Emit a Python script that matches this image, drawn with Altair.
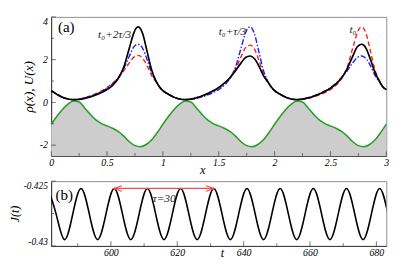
import altair as alt
import pandas as pd

FONT = "Liberation Serif, Times New Roman, DejaVu Serif, serif"

# ---------------- panel (a) data ----------------
x_rho = [0.00, 0.05, 0.10, 0.15, 0.20, 0.25, 0.30, 0.35, 0.40, 0.45, 0.50, 0.55, 0.60, 0.65, 0.70, 0.74, 0.76, 0.78, 0.80, 0.82, 0.86, 0.90, 0.94, 0.97,
         1.00, 1.05, 1.10, 1.15, 1.20, 1.25, 1.30, 1.35, 1.40, 1.45, 1.50, 1.55, 1.60, 1.65, 1.70, 1.74, 1.76, 1.78, 1.80, 1.82, 1.86, 1.90, 1.94, 1.97,
         2.00, 2.05, 2.10, 2.15, 2.20, 2.25, 2.30, 2.35, 2.40, 2.45, 2.50, 2.55, 2.60, 2.65, 2.70, 2.74, 2.76, 2.78, 2.80, 2.82, 2.86, 2.90, 2.94, 2.97,
         3.00]

rho_black = [0.55, 0.38, 0.24, 0.16, 0.13, 0.14, 0.19, 0.26, 0.35, 0.46, 0.60, 0.80, 1.12, 1.65, 2.55, 3.25, 3.47, 3.53, 3.44, 3.20, 2.35, 1.50, 0.98, 0.72,
             0.55, 0.38, 0.24, 0.16, 0.13, 0.15, 0.22, 0.30, 0.41, 0.54, 0.70, 0.90, 1.15, 1.48, 1.85, 2.10, 2.15, 2.17, 2.13, 2.04, 1.70, 1.25, 0.95, 0.72,
             0.55, 0.38, 0.24, 0.16, 0.13, 0.15, 0.21, 0.29, 0.39, 0.51, 0.66, 0.87, 1.15, 1.58, 2.17, 2.60, 2.69, 2.72, 2.67, 2.52, 1.98, 1.38, 0.98, 0.72,
             0.60]
rho_red = [0.55, 0.38, 0.24, 0.16, 0.13, 0.15, 0.22, 0.30, 0.41, 0.54, 0.70, 0.90, 1.15, 1.48, 1.85, 2.12, 2.18, 2.20, 2.16, 2.06, 1.70, 1.25, 0.95, 0.72,
           0.55, 0.38, 0.24, 0.16, 0.13, 0.15, 0.21, 0.29, 0.39, 0.51, 0.66, 0.87, 1.15, 1.56, 2.14, 2.56, 2.65, 2.68, 2.63, 2.49, 1.96, 1.37, 0.98, 0.72,
           0.55, 0.38, 0.24, 0.16, 0.13, 0.14, 0.19, 0.26, 0.35, 0.46, 0.60, 0.80, 1.12, 1.65, 2.55, 3.25, 3.47, 3.53, 3.44, 3.20, 2.35, 1.50, 0.98, 0.72,
           0.60]
rho_blue = [0.55, 0.38, 0.24, 0.16, 0.13, 0.15, 0.21, 0.29, 0.39, 0.51, 0.66, 0.87, 1.15, 1.58, 2.17, 2.60, 2.69, 2.72, 2.67, 2.52, 1.98, 1.38, 0.98, 0.72,
            0.55, 0.38, 0.24, 0.16, 0.13, 0.14, 0.19, 0.26, 0.35, 0.46, 0.60, 0.80, 1.12, 1.65, 2.55, 3.25, 3.47, 3.53, 3.44, 3.20, 2.35, 1.50, 0.98, 0.72,
            0.55, 0.38, 0.24, 0.16, 0.13, 0.15, 0.22, 0.30, 0.41, 0.54, 0.70, 0.90, 1.15, 1.48, 1.85, 2.10, 2.15, 2.17, 2.13, 2.04, 1.70, 1.25, 0.95, 0.72,
            0.60]

x_u = [0.00, 0.05, 0.10, 0.15, 0.20, 0.25, 0.30, 0.35, 0.40, 0.45, 0.50, 0.55, 0.60, 0.65, 0.70, 0.75, 0.80, 0.85, 0.90, 0.95,
       1.00, 1.05, 1.10, 1.15, 1.20, 1.25, 1.30, 1.35, 1.40, 1.45, 1.50, 1.55, 1.60, 1.65, 1.70, 1.75, 1.80, 1.85, 1.90, 1.95,
       2.00, 2.05, 2.10, 2.15, 2.20, 2.25, 2.30, 2.35, 2.40, 2.45, 2.50, 2.55, 2.60, 2.65, 2.70, 2.75, 2.80, 2.85, 2.90, 2.95,
       3.00]
u_vals = [-1.02, -0.66, -0.33, -0.08, 0.07, 0.02, -0.26, -0.56, -0.82, -0.99, -1.10, -1.21, -1.36, -1.58, -1.84, -2.02, -2.07, -1.97, -1.75, -1.41,
          -1.02, -0.66, -0.33, -0.08, 0.07, 0.02, -0.26, -0.56, -0.82, -0.99, -1.10, -1.21, -1.36, -1.58, -1.84, -2.02, -2.07, -1.97, -1.75, -1.41,
          -1.02, -0.66, -0.33, -0.08, 0.07, 0.02, -0.26, -0.56, -0.82, -0.99, -1.10, -1.21, -1.36, -1.58, -1.84, -2.02, -2.07, -1.97, -1.75, -1.41,
          -1.02]

a_x_ticks = [0, 0.5, 1, 1.5, 2, 2.5, 3]
a_x_minor = [0.25, 0.75, 1.25, 1.75, 2.25, 2.75]
a_y_ticks = [-2, 0, 2, 4]
a_y_minor = [-1, 1, 3]

a_labels = ["(a)", "t\u2080+2\u03c4/3", "t\u2080+\u03c4/3", "t\u2080"]
a_lab_x = [0.06, 0.42, 1.50, 2.67]
a_lab_y = [3.53, 3.19, 3.32, 3.40]

# ---------------- panel (b) data ----------------
t_vals = [581, 583.5, 586, 588.5, 591, 593.5, 596, 598.5, 601, 603.5, 606, 608.5, 611, 613.5, 616, 618.5,
          621, 623.5, 626, 628.5, 631, 633.5, 636, 638.5, 641, 643.5, 646, 648.5, 651, 653.5, 656, 658.5,
          661, 663.5, 666, 668.5, 671, 673.5, 676, 678.5, 681, 683.5]
j_vals = [-0.42556, -0.42754, -0.42951, -0.42754, -0.42556, -0.42754, -0.42951, -0.42754,
          -0.42556, -0.42754, -0.42951, -0.42754, -0.42556, -0.42754, -0.42951, -0.42754,
          -0.42556, -0.42754, -0.42951, -0.42754, -0.42556, -0.42754, -0.42951, -0.42754,
          -0.42556, -0.42754, -0.42951, -0.42754, -0.42556, -0.42754, -0.42951, -0.42754,
          -0.42556, -0.42754, -0.42951, -0.42754, -0.42556, -0.42754, -0.42951, -0.42754,
          -0.42556, -0.42754]

b_x_ticks = [600, 620, 640, 660, 680]
b_x_minor = [590, 610, 630, 650, 670]
b_y_ticks = [-0.43, -0.425]
b_y_minor = [-0.4275]

tau_start = [601]
tau_end = [631]
tau_level = [-0.42556]
b_labels = ["(b)", "\u03c4=30"]
b_lab_x = [583.3, 612.6]
b_lab_y = [-0.42607, -0.42634]

# ---------------- layout ----------------
W = 357
H1 = 148
H2 = 69
AXC = "#333333"

xs_a = alt.Scale(domain=[0, 3], nice=False, zero=False)
ys_a = alt.Scale(domain=[-2.5, 4], nice=False, zero=False)
xs_b = alt.Scale(domain=[582, 683], nice=False, zero=False)
ys_b = alt.Scale(domain=[-0.43, -0.425], nice=False, zero=False)


def axis(values, title, fmt, **kw):
    opts = dict(values=values, title=title, format=fmt, ticks=False, grid=False,
                labelFont=FONT, labelFontStyle="italic", labelFontSize=10.5, labelColor="black",
                labelFlush=False, labelPadding=2, domainColor=AXC,
                titleFont=FONT, titleFontStyle="italic", titleFontWeight="normal",
                titleFontSize=14, titleColor="black",
                labelExpr="replace(datum.label, '\u2212', '-')")
    opts.update(kw)
    return alt.Axis(**opts)


AX_XA = axis(a_x_ticks, "x", "~g", titleY=15, titleX=161, titleBaseline="middle", titleFontSize=13)
AX_YA = axis(a_y_ticks, "\u03c1(x), U(x)", "~g", labelPadding=4, titlePadding=4, labelFlush=True)
AX_XB = axis(b_x_ticks, "t", "d", titleY=1, titleBaseline="top", titleX=182, titleFontSize=13)
AX_YB = axis(b_y_ticks, "J(t)", ".4~f", titleFontSize=13, labelFontSize=10, labelPadding=4, titlePadding=2,
             labelFlush=True)


def XA(f):
    return alt.X(f, scale=xs_a, axis=AX_XA)


def YA(f):
    return alt.Y(f, scale=ys_a, axis=AX_YA)


def XB(f):
    return alt.X(f, scale=xs_b, axis=AX_XB)


def YB(f):
    return alt.Y(f, scale=ys_b, axis=AX_YB)


# panel (a)
rho_df = pd.DataFrame({"x": x_rho, "black": rho_black, "red": rho_red, "blue": rho_blue})
u_df = pd.DataFrame({"x": x_u, "U": u_vals})

area = alt.Chart(u_df).mark_area(color="#cdcdcd", interpolate="monotone").encode(
    x=XA("x:Q"), y=YA("U:Q"), y2=alt.datum(-2.5))
u_line = alt.Chart(u_df).mark_line(color="#22a022", strokeWidth=1.6, interpolate="monotone").encode(
    x=XA("x:Q"), y=YA("U:Q"))


def rho_line(col, color, dash, width):
    kw = dict(color=color, strokeWidth=width, interpolate="monotone")
    if dash:
        kw["strokeDash"] = dash
    return alt.Chart(rho_df).mark_line(**kw).encode(x=XA("x:Q"), y=YA(f"{col}:Q"))


red_line = rho_line("red", "#ff2020", [5, 3], 1.5)
blue_line = rho_line("blue", "#2020ff", [6, 2, 1.5, 2], 1.5)
black_line = rho_line("black", "black", None, 1.8)


def xticks(vals, X, h, size):
    return alt.Chart(pd.DataFrame({"v": vals})).mark_tick(
        orient="vertical", size=size, thickness=1, color=AXC, yOffset=-size / 2).encode(
        x=X("v:Q"), y=alt.value(h))


def yticks(vals, Y, size):
    return alt.Chart(pd.DataFrame({"v": vals})).mark_tick(
        orient="horizontal", size=size, thickness=1, color=AXC, xOffset=size / 2).encode(
        y=Y("v:Q"), x=alt.value(0))


a_text_df = pd.DataFrame({"x": a_lab_x, "y": a_lab_y, "label": a_labels})
a_title = alt.Chart(a_text_df.iloc[[0]]).mark_text(
    font=FONT, fontSize=16, align="left", baseline="middle", color="black").encode(
    x=XA("x:Q"), y=YA("y:Q"), text="label:N")
a_notes = alt.Chart(a_text_df.iloc[1:]).mark_text(
    font=FONT, fontSize=12, fontStyle="italic", align="left", baseline="middle", color="#222").encode(
    x=XA("x:Q"), y=YA("y:Q"), text="label:N")

top = alt.layer(
    area, u_line, red_line, blue_line, black_line,
    xticks(a_x_ticks, XA, H1, 5), xticks(a_x_minor, XA, H1, 3),
    yticks(a_y_ticks, YA, 5), yticks(a_y_minor, YA, 3),
    a_title, a_notes,
).properties(width=W, height=H1)

# panel (b)
j_df = pd.DataFrame({"t": t_vals, "J": j_vals})
j_line = alt.Chart(j_df).mark_line(color="black", strokeWidth=1.7, interpolate="natural", clip=True).encode(
    x=XB("t:Q"), y=YB("J:Q"))

arrow_df = pd.DataFrame({"t0": tau_start, "t1": tau_end, "y": tau_level})
arrow = alt.Chart(arrow_df).mark_rule(color="#ff4a4a", strokeWidth=1.3).encode(
    x=XB("t0:Q"), x2="t1:Q", y=YB("y:Q"))
head_l = alt.Chart(arrow_df).mark_point(shape="M1,-0.7L-1,0L1,0.7", filled=False, color="#ff4a4a",
                                        size=70, strokeWidth=1.2, xOffset=4, opacity=1).encode(
    x=XB("t0:Q"), y=YB("y:Q"))
head_r = alt.Chart(arrow_df).mark_point(shape="M-1,-0.7L1,0L-1,0.7", filled=False, color="#ff4a4a",
                                        size=70, strokeWidth=1.2, xOffset=-4, opacity=1).encode(
    x=XB("t1:Q"), y=YB("y:Q"))

b_text_df = pd.DataFrame({"t": b_lab_x, "y": b_lab_y, "label": b_labels})
b_title = alt.Chart(b_text_df.iloc[[0]]).mark_text(
    font=FONT, fontSize=16, align="left", baseline="middle", color="black").encode(
    x=XB("t:Q"), y=YB("y:Q"), text="label:N")
b_note = alt.Chart(b_text_df.iloc[[1]]).mark_text(
    font=FONT, fontSize=12, fontStyle="italic", align="left", baseline="middle", color="#222").encode(
    x=XB("t:Q"), y=YB("y:Q"), text="label:N")

bottom = alt.layer(
    j_line, arrow, head_l, head_r,
    xticks(b_x_ticks, XB, H2, 5), xticks(b_x_minor, XB, H2, 3),
    yticks(b_y_ticks, YB, 5), yticks(b_y_minor, YB, 3),
    b_title, b_note,
).properties(width=W, height=H2)

chart = alt.vconcat(top, bottom, spacing=3).properties(padding=0).configure_view(
    stroke="#8a8a8a", strokeWidth=1
)

chart.save("out.html", embed_options={"renderer": "svg", "actions": False})
